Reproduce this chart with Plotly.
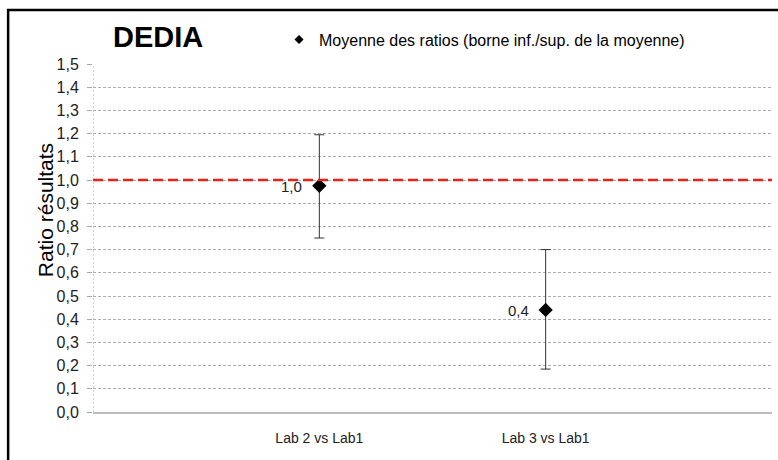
import plotly.graph_objects as go

# Data
categories = ["Lab 2 vs Lab1", "Lab 3 vs Lab1"]
cat_pos = [1, 2]
means = [0.975, 0.44]
upper = [1.195, 0.70]
lower = [0.75, 0.185]
y_ticks = [round(i * 0.1, 1) for i in range(16)]
y_tick_text = [f"{v:.1f}".replace(".", ",") for v in y_ticks]
reference_ratio = 1.0
series_name = "Moyenne des ratios (borne inf./sup. de la moyenne)"

err_plus = [u - m for u, m in zip(upper, means)]
err_minus = [m - l for m, l in zip(means, lower)]
labels = [f"{m:.1f}".replace(".", ",") for m in means]

font_main = "Liberation Sans, Arial, sans-serif"

fig = go.Figure()
fig.add_trace(go.Scatter(
    x=cat_pos, y=means, mode="markers",
    name=series_name, showlegend=False, legendgroup="m",
    marker=dict(symbol="diamond", size=11, color="black"),
    error_y=dict(type="data", symmetric=False, array=err_plus, arrayminus=err_minus,
                 color="#333333", thickness=1, width=5),
))
# legend entry with a smaller symbol
fig.add_trace(go.Scatter(
    x=[None], y=[None], mode="markers", name=series_name, legendgroup="m",
    marker=dict(symbol="diamond", size=7, color="black"),
))

# value labels to the left of each mean
for xp, yp, lab in zip(cat_pos, means, labels):
    fig.add_annotation(x=xp, y=yp, text=lab, xref="x", yref="y", showarrow=False,
                       xanchor="right", yanchor="middle", xshift=-15, yshift=-1,
                       font=dict(family=font_main, size=15, color="#222222"))

# reference line at ratio 1
fig.add_shape(type="line", xref="x", yref="y", x0=0, x1=3, y0=reference_ratio, y1=reference_ratio,
              line=dict(color="#e8211c", width=2.5, dash="10px,5px"), layer="above")
# dashed vertical axis line
fig.add_shape(type="line", xref="x", yref="y", x0=0, x1=0, y0=0, y1=1.5,
              line=dict(color="#a8a8a8", width=1, dash="2px,2px"), layer="below")
# outer chart frame
fig.add_shape(type="rect", xref="paper", yref="paper", x0=-0.125, x1=1.2, y0=-0.4, y1=1.155,
              line=dict(color="black", width=2.5), fillcolor="rgba(0,0,0,0)")

fig.add_annotation(text="<b>DEDIA</b>", xref="paper", yref="paper", x=0.026, y=1.077,
                   xanchor="left", yanchor="middle", showarrow=False,
                   font=dict(family=font_main, size=29, color="black"))
fig.add_annotation(text="Ratio résultats", xref="paper", yref="paper", x=-0.0707, y=0.58,
                   xanchor="center", yanchor="middle", showarrow=False, textangle=-90,
                   font=dict(family=font_main, size=21, color="black"))

fig.update_layout(
    width=778, height=460,
    margin=dict(l=93, r=6, t=64, b=48),
    paper_bgcolor="white", plot_bgcolor="white",
    font=dict(family=font_main, color="#222222"),
    showlegend=True,
    legend=dict(x=0.274, y=1.07, xanchor="left", yanchor="middle",
                font=dict(family=font_main, size=16, color="black"),
                bgcolor="rgba(0,0,0,0)", itemwidth=30),
    xaxis=dict(range=[0, 3], tickvals=cat_pos, ticktext=categories, showgrid=False,
               zeroline=False, showline=True, linecolor="#bcbcbc", linewidth=2,
               ticks="", ticklabelstandoff=12,
               tickfont=dict(family=font_main, size=14, color="#222222")),
    yaxis=dict(range=[0, 1.5], tickvals=y_ticks, ticktext=y_tick_text,
               showgrid=True, gridcolor="#adadad", griddash="3px,2px", gridwidth=1,
               zeroline=False, showline=False, ticks="outside", ticklen=5, tickcolor="#a8a8a8",
               ticklabelstandoff=5,
               tickfont=dict(family=font_main, size=16, color="#222222")),
)

fig.write_html("out.html")
